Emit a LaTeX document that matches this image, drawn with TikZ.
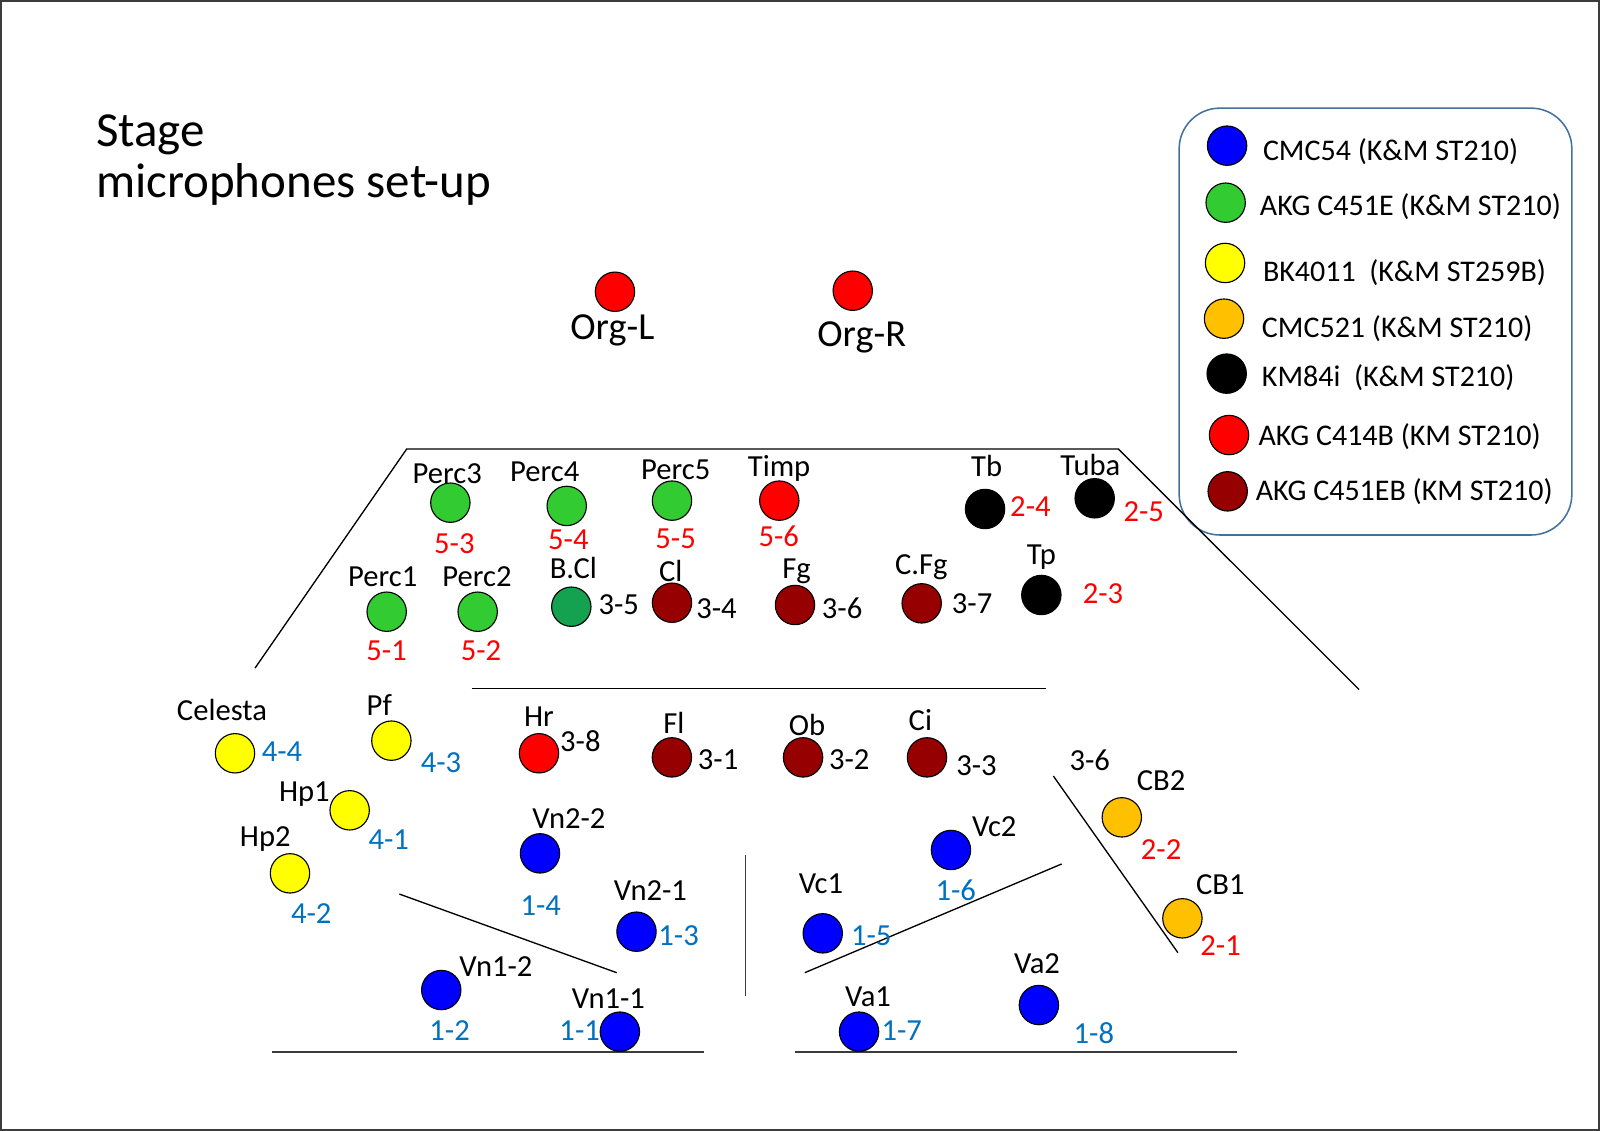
\documentclass[tikz,border=0pt]{standalone}
\usepackage{fontspec}
\setmainfont{Carlito}
\newcommand\lblfont{\fontsize{30}{34}\selectfont}
\newcommand\legfont{\fontsize{29.4}{34}\selectfont}
\newcommand\orgfont{\fontsize{37.5}{40}\selectfont}
\newcommand\ttlfont{\fontsize{48}{50}\selectfont}
\definecolor{micblue}{RGB}{0,0,255}
\definecolor{micgreen}{RGB}{50,204,50}
\definecolor{micdgreen}{RGB}{20,162,80}
\definecolor{micyellow}{RGB}{255,255,0}
\definecolor{micorange}{RGB}{255,192,0}
\definecolor{micred}{RGB}{255,0,0}
\definecolor{micdred}{RGB}{150,0,0}
\definecolor{numred}{RGB}{255,0,0}
\definecolor{numblue}{RGB}{0,112,192}
\definecolor{legline}{RGB}{65,113,156}
\definecolor{framegray}{RGB}{60,60,60}
\begin{document}
\begin{tikzpicture}[x=1pt,y=-1pt,
  mic/.style={circle,draw=black,line width=1.1pt,minimum size=38.6pt,inner sep=0pt},
  lab/.style={inner sep=0pt,font=\lblfont,anchor=base},
  labw/.style={lab,anchor=base west},
  legw/.style={labw,font=\legfont},
  nr/.style={text=numred},
  nb/.style={text=numblue},
  stage/.style={draw=black,line width=1.3pt},
  floor/.style={draw=framegray,line width=2pt}]
\useasboundingbox (0,0) rectangle (1568.6,1108.8);
\draw[framegray,line width=2pt] (1.1,1.1) rectangle (1567.5,1107.7);
% title
\node[inner sep=0pt,anchor=base west,font=\ttlfont] (t1) at (94,143.8) {Stage};
\node[inner sep=0pt,anchor=base west,font=\ttlfont] (t2) at (94,194) {microphones set-up};
% legend
\draw[legline,line width=1.5pt,rounded corners=40pt] (1156,106) rectangle (1541,524.5);
\node[mic,fill=micblue] (lg1) at (1203,142.8) {};
\node[mic,fill=micgreen] (lg2) at (1201.6,198.7) {};
\node[mic,fill=micyellow] (lg3) at (1201,257.8) {};
\node[mic,fill=micorange] (lg4) at (1200,312.4) {};
\node[mic,fill=black] (lg5) at (1202.6,366.3) {};
\node[mic,fill=micred] (lg6) at (1204.9,426.5) {};
\node[mic,fill=micdred] (lg7) at (1203.6,481.7) {};
\node[legw] (lt1) at (1238,157.5) {CMC54 (K\&M ST210)};
\node[legw] (lt2) at (1235,211.5) {AKG C451E (K\&M ST210)};
\node[legw] (lt3) at (1238,276.2) {BK4011\ \ (K\&M ST259B)};
\node[legw] (lt4) at (1237,330.7) {CMC521 (K\&M ST210)};
\node[legw] (lt5) at (1237,379.1) {KM84i\ \ (K\&M ST210)};
\node[legw] (lt6) at (1233.7,436.3) {AKG C414B (KM ST210)};
\node[legw] (lt7) at (1231,490.2) {AKG C451EB (KM ST210)};
% stage lines
\coordinate (s1) at (398.7,440.2);
\coordinate (s2) at (1096.4,440.2);
\coordinate (s3) at (250,655);
\coordinate (s4) at (1332.4,676);
\coordinate (m1) at (462.4,674.8);
\coordinate (m2) at (1025,674.8);
\coordinate (d1) at (391.5,876.5);
\coordinate (d2) at (604.6,953.6);
\coordinate (v1) at (730.8,838.2);
\coordinate (v2) at (730.8,976.5);
\coordinate (e1) at (789,953.6);
\coordinate (e2) at (1040.8,847);
\coordinate (c1) at (1032.7,760.8);
\coordinate (c2) at (1154.8,934);
\coordinate (b1) at (267,1031);
\coordinate (b2) at (690.2,1031);
\coordinate (b3) at (779.7,1031);
\coordinate (b4) at (1212.9,1031);
\draw[stage] (s3) -- (s1) -- (s2) -- (s4);
\draw[stage] (m1) -- (m2);
\draw[stage] (d1) -- (d2);
\draw[floor,line width=1.6pt] (v1) -- (v2);
\draw[stage] (e1) -- (e2);
\draw[stage] (c1) -- (c2);
\draw[floor] (b1) -- (b2);
\draw[floor] (b3) -- (b4);
% organ
\node[mic,fill=micred] (orgL) at (602.9,286) {};
\node[mic,fill=micred] (orgR) at (836,285) {};
\node[lab,font=\orgfont] (orgLt) at (600.3,333.3) {Org-L};
\node[lab,font=\orgfont] (orgRt) at (844.8,339.9) {Org-R};
% mics
\node[mic,fill=micgreen] (perc3) at (441.5,492.8) {};
\node[mic,fill=micgreen] (perc4) at (555.6,496) {};
\node[mic,fill=micgreen] (perc5) at (658.8,490.8) {};
\node[mic,fill=micred] (timp) at (764,490.8) {};
\node[mic,fill=black] (tb) at (965.7,499) {};
\node[mic,fill=black] (tuba) at (1073.2,488.5) {};
\node[mic,fill=micgreen] (perc1) at (379.1,599.7) {};
\node[mic,fill=micgreen] (perc2) at (468.3,599.7) {};
\node[mic,fill=micdgreen] (bcl) at (560.1,594.8) {};
\node[mic,fill=micdred] (cl) at (658.8,590.9) {};
\node[mic,fill=micdred] (fg) at (779.4,593.1) {};
\node[mic,fill=micdred] (cfg) at (903.6,591.5) {};
\node[mic,fill=black] (tp) at (1020.9,583.3) {};
\node[mic,fill=micyellow] (celesta) at (230.4,738.5) {};
\node[mic,fill=micyellow] (pf) at (383.7,726.1) {};
\node[mic,fill=micyellow] (hp1) at (342.8,794.4) {};
\node[mic,fill=micyellow] (hp2) at (284.3,856.2) {};
\node[mic,fill=micred] (hr) at (528.4,738.5) {};
\node[mic,fill=micdred] (fl) at (658.7,742.5) {};
\node[mic,fill=micdred] (ob) at (787.3,742.5) {};
\node[mic,fill=micdred] (ci) at (908.8,742.5) {};
\node[mic,fill=micorange] (cb2) at (1099.8,801.3) {};
\node[mic,fill=micorange] (cb1) at (1159.2,900.3) {};
\node[mic,fill=micblue] (vn22) at (529.4,836.6) {};
\node[mic,fill=micblue] (vn21) at (624,913.4) {};
\node[mic,fill=micblue] (vc2) at (932.3,833.3) {};
\node[mic,fill=micblue] (vc1) at (806.6,915) {};
\node[mic,fill=micblue] (vn12) at (432.6,970.6) {};
\node[mic,fill=micblue] (vn11) at (607.7,1011.4) {};
\node[mic,fill=micblue] (va1) at (842.2,1011.4) {};
\node[mic,fill=micblue] (va2) at (1018.5,985.3) {};
% names
\node[lab] (perc3t) at (438.5,473.9) {Perc3};
\node[lab] (perc4t) at (534,472.2) {Perc4};
\node[lab] (perc5t) at (662.4,469.9) {Perc5};
\node[lab] (timpt) at (763.8,467.3) {Timp};
\node[lab] (tbt) at (967.3,467.3) {Tb};
\node[lab] (tubat) at (1069,465.7) {Tuba};
\node[lab] (perc1t) at (375.2,575.2) {Perc1};
\node[lab] (perc2t) at (467.6,575.2) {Perc2};
\node[lab] (bclt) at (562.1,567) {B.Cl};
\node[lab] (clt) at (657.5,570.3) {Cl};
\node[lab] (fgt) at (781,567) {Fg};
\node[lab] (cfgt) at (903.3,563.7) {C.Fg};
\node[lab] (tpt) at (1020.9,553.9) {Tp};
\node[lab] (celestat) at (217.6,706.5) {Celesta};
\node[lab] (pft) at (371.9,701) {Pf};
\node[lab] (hp1t) at (298.4,786) {Hp1};
\node[lab] (hp2t) at (260.1,830.1) {Hp2};
\node[lab] (hrt) at (528.4,712.4) {Hr};
\node[lab] (flt) at (660.6,719) {Fl};
\node[lab] (obt) at (791.2,720.6) {Ob};
\node[lab] (cit) at (902.3,715.7) {Ci};
\node[lab] (cb2t) at (1138.3,775.2) {CB2};
\node[lab] (cb1t) at (1196.4,876.5) {CB1};
\node[lab] (vn22t) at (557.8,812.1) {Vn2-2};
\node[lab] (vn21t) at (637.7,882.4) {Vn2-1};
\node[labw] (vc2t) at (952.9,820.3) {Vc2};
\node[lab] (vc1t) at (804.8,875.8) {Vc1};
\node[labw] (vn12t) at (450.2,957.5) {Vn1-2};
\node[lab] (vn11t) at (596.5,988.5) {Vn1-1};
\node[lab] (va1t) at (851,986.9) {Va1};
\node[lab] (va2t) at (1016.7,954.2) {Va2};
% numbers
\node[lab,nr] (n53) at (445.4,543.1) {5-3};
\node[lab,nr] (n54) at (557.2,538.5) {5-4};
\node[lab,nr] (n55) at (662.4,537.6) {5-5};
\node[labw,nr] (n56) at (743.5,536) {5-6};
\node[labw,nr] (n24) at (990.2,506.5) {2-4};
\node[labw,nr] (n25) at (1101.3,511.4) {2-5};
\node[lab,nr] (n51) at (379,647.1) {5-1};
\node[lab,nr] (n52) at (471.6,647.1) {5-2};
\node[labw] (n35) at (586.6,602.9) {3-5};
\node[labw] (n34) at (682.4,606.2) {3-4};
\node[labw] (n36) at (805.6,606.2) {3-6};
\node[labw] (n37) at (933,601.3) {3-7};
\node[labw,nr] (n23) at (1061.4,591.5) {2-3};
\node[labw,nb] (n44) at (256.5,746.7) {4-4};
\node[labw,nb] (n43) at (412.4,757.5) {4-3};
\node[labw,nb] (n41) at (361.1,833.3) {4-1};
\node[lab,nb] (n42) at (305.1,905.2) {4-2};
\node[labw] (n38) at (549,737) {3-8};
\node[labw] (n31) at (684,753.9) {3-1};
\node[labw] (n32) at (812.6,753.9) {3-2};
\node[labw] (n33) at (937.3,759.8) {3-3};
\node[labw] (n36b) at (1048.3,754.9) {3-6};
\node[lab,nr] (n22) at (1138.3,843.1) {2-2};
\node[labw,nr] (n21) at (1176.7,936.3) {2-1};
\node[lab,nb] (n14) at (530.1,897.1) {1-4};
\node[labw,nb] (n13) at (645.3,926.5) {1-3};
\node[lab,nb] (n16) at (937,882.4) {1-6};
\node[labw,nb] (n15) at (834.1,926.5) {1-5};
\node[lab,nb] (n12) at (440.8,1019.6) {1-2};
\node[lab,nb] (n11) at (568.3,1019.6) {1-1};
\node[labw,nb] (n17) at (864.1,1019.6) {1-7};
\node[lab,nb] (n18) at (1072.4,1022.9) {1-8};
\end{tikzpicture}
\end{document}
